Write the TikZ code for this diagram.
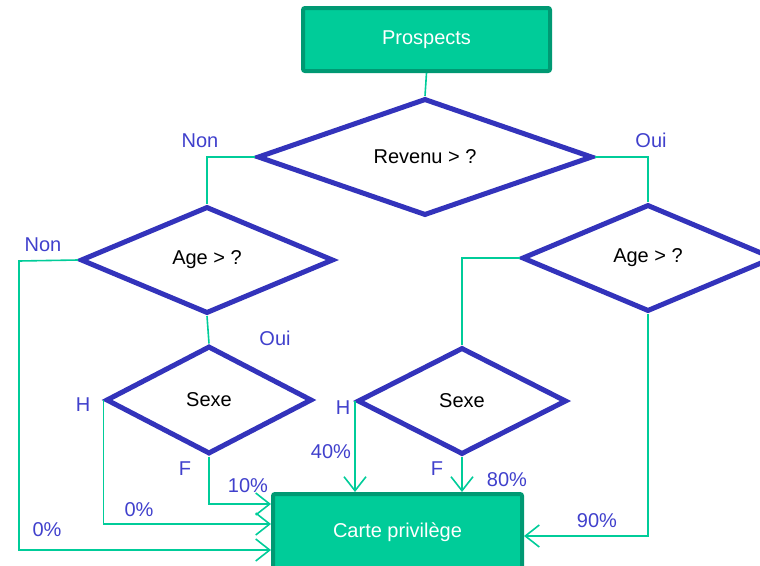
\documentclass[tikz,border=0pt]{standalone}
\usepackage{fontspec}
\setmainfont{Liberation Sans}
\usetikzlibrary{shapes.geometric,arrows.meta,calc}
\definecolor{boxfill}{HTML}{00CC99}
\definecolor{boxline}{HTML}{009973}
\definecolor{dblue}{HTML}{3333BB}
\definecolor{lblue}{HTML}{4040CC}
\definecolor{conn}{HTML}{00CC99}
\tikzset{
  greenbox/.style={draw=boxline, line width=4pt, fill=boxfill, rounded corners=2pt,
    text=white, font=\fontsize{20}{24}\selectfont, inner sep=0pt},
  decision/.style={diamond, draw=dblue, line width=5pt, fill=white, inner sep=0pt,
    text=black, font=\fontsize{20}{24}\selectfont},
  lbl/.style={text=lblue, font=\fontsize{20}{24}\selectfont, inner sep=0pt},
  link/.style={draw=conn, line width=1.6pt},
  arr/.style={link, -{Straight Barb[length=14pt,width=22pt,line width=1.6pt]}}
}
\begin{document}
\begin{tikzpicture}[x=1pt,y=-1pt]
\useasboundingbox (0,0) rectangle (760,565);
\begin{scope}
\clip (0,0) rectangle (760,565);
% boxes
\node[greenbox, minimum width=247pt, minimum height=63pt] (P) at (426.5,39.5) {Prospects};
\node[greenbox, minimum width=249pt, minimum height=76pt] (C) at (397.5,532) {Carte privilège};
% decisions
\node[decision, minimum width=335pt, minimum height=110pt] (R) at (425,157) {Revenu > ?};
\node[decision, minimum width=253pt, minimum height=107pt] (AL) at (207,260) {Age > ?};
\node[decision, minimum width=252pt, minimum height=107pt] (AR) at (648,258) {Age > ?};
\node[decision, minimum width=206pt, minimum height=108pt] (SL) at (209,400) {Sexe};
\node[decision, minimum width=209pt, minimum height=107pt] (SR) at (462,401) {Sexe};
% helper coordinates
\coordinate (c1) at (19,261);
% connectors
\draw[link] (P.south) -- (R.north);
\draw[link] (R.west) -| (AL.north);
\draw[link] (R.east) -| (AR.north);
\draw[arr] (AL.west) -- (c1) |- ([yshift=-18pt]C.west);
\draw[link] (AL.south) -- (SL.north);
\draw[arr] (SL.west) |- ([yshift=8pt]C.west);
\draw[arr] (SL.south) |- ([yshift=28pt]C.west);
\draw[link] (AR.west) -| (SR.north);
\draw[arr] (SR.west) -- (SR.west |- C.north);
\draw[arr] (SR.south) -- (SR.south |- C.north);
\draw[arr] (AR.south) |- ([yshift=-4pt]C.east);
% labels
\node[lbl] (l1) at (200,141) {Non};
\node[lbl] (l2) at (651,140) {Oui};
\node[lbl] (l3) at (43,245) {Non};
\node[lbl] (l4) at (275,338) {Oui};
\node[lbl] (l5) at (83,405) {H};
\node[lbl] (l6) at (185,469) {F};
\node[lbl] (l7) at (248,486) {10\%};
\node[lbl] (l8) at (139,510) {0\%};
\node[lbl] (l9) at (47,530) {0\%};
\node[lbl] (l10) at (343,408) {H};
\node[lbl] (l11) at (331,452) {40\%};
\node[lbl] (l12) at (437,469) {F};
\node[lbl] (l13) at (507,480) {80\%};
\node[lbl] (l14) at (597,521) {90\%};
\end{scope}
\end{tikzpicture}
\end{document}
